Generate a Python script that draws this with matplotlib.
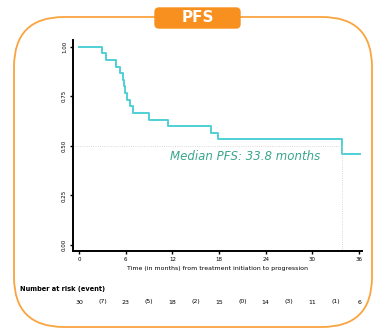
import numpy as np
import matplotlib
matplotlib.use("Agg")
import matplotlib.pyplot as plt
from matplotlib.patches import FancyBboxPatch
from matplotlib.transforms import blended_transform_factory

# Kaplan-Meier curve
km_time = [0, 3.0, 3.4, 4.7, 5.2, 5.6, 5.75, 5.85, 6.2, 6.6, 6.9, 9.0, 11.4, 17.0, 17.9, 33.8, 36.1]
km_surv = [1.0, 0.967, 0.933, 0.9, 0.867, 0.833, 0.8, 0.767, 0.733, 0.7, 0.667, 0.633, 0.6, 0.567, 0.533, 0.457, 0.457]

median_pfs = 33.8
risk_times = [0, 6, 12, 18, 24, 30, 36]
at_risk = [30, 23, 18, 15, 14, 11, 6]
events = [7, 5, 2, 0, 3, 1]
ytick_vals = [0.0, 0.25, 0.5, 0.75, 1.0]
ytick_labels = ["0.00", "0.25", "0.50", "0.75", "1.00"]

orange = "#f7901e"
teal = "#4fd0d6"
green_txt = "#3aa58c"

fig = plt.figure(figsize=(3.73, 3.32), dpi=100)

# rounded frame + title badge
frame = FancyBboxPatch((0.14, 0.05), 3.58, 3.10, boxstyle="round,pad=0,rounding_size=0.5",
                       transform=fig.dpi_scale_trans, fill=False, edgecolor="#f9a43f", linewidth=1.3)
fig.patches.append(frame)
badge = FancyBboxPatch((1.55, 3.04), 0.85, 0.2, boxstyle="round,pad=0,rounding_size=0.04",
                       transform=fig.dpi_scale_trans, facecolor=orange, edgecolor=orange, linewidth=1)
fig.patches.append(badge)
fig.text(1.975 / 3.73, 3.14 / 3.32, "PFS", color="white", fontsize=11, fontweight="bold",
         ha="center", va="center")

ax = fig.add_axes([0.196, 0.244, 0.775, 0.636])
ax.step(km_time, km_surv, where="post", color=teal, linewidth=1.4)

# median guides
ax.plot([-0.77, median_pfs], [0.5, 0.5], color="#cccccc", linewidth=0.6, linestyle=":")
ax.plot([median_pfs, median_pfs], [-0.03, 0.5], color="#cccccc", linewidth=0.6, linestyle=":")
ax.text(21.3, 0.445, "Median PFS: 33.8 months", color=green_txt, fontsize=8.5,
        style="italic", ha="center", va="center")

ax.set_xlim(-0.77, 36.4)
ax.set_ylim(-0.03, 1.035)
ax.set_xticks(risk_times)
ax.set_xticklabels([str(t) for t in risk_times], fontsize=4)
ax.set_yticks(ytick_vals)
ax.set_yticklabels(ytick_labels, fontsize=4, rotation=90, va="center")
ax.tick_params(length=2.5, width=1, pad=2)
for s in ["top", "right"]:
    ax.spines[s].set_visible(False)
for s in ["left", "bottom"]:
    ax.spines[s].set_linewidth(1.4)
ax.set_xlabel("Time (in months) from treatment initiation to progression", fontsize=4.5, labelpad=3)

# number at risk table
fig.text(20 / 373, 1 - 289 / 332, "Number at risk (event)", fontsize=4.8, fontweight="bold",
         ha="left", va="center")
tr = blended_transform_factory(ax.transData, fig.transFigure)
for t, n in zip(risk_times, at_risk):
    ax.text(t, 1 - 302 / 332, str(n), transform=tr, fontsize=4.5, ha="center", va="center")
for i, e in enumerate(events):
    ax.text(risk_times[i] + 3, 1 - 302 / 332, "(%d)" % e, transform=tr, fontsize=4.5,
            ha="center", va="center")

fig.savefig("out.png", dpi=100)
